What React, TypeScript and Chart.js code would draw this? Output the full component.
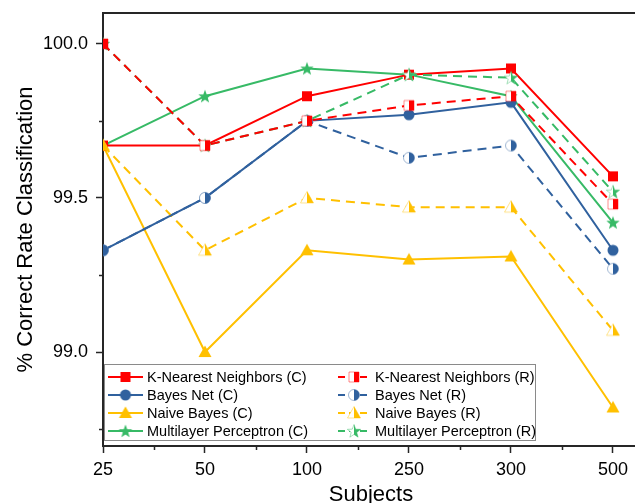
import React, { useEffect, useRef } from 'react';
import { Chart, registerables } from 'chart.js';
Chart.register(...registerables);

const categories = ['25', '50', '100', '250', '300', '500'];
const knnC = [99.67, 99.67, 99.83, 99.9, 99.92, 99.57];
const knnR = [100.0, 99.67, 99.75, 99.8, 99.83, 99.48];
const bnC = [99.33, 99.5, 99.75, 99.77, 99.81, 99.33];
const bnR = [99.33, 99.5, 99.75, 99.63, 99.67, 99.27];
const nbC = [99.67, 99.0, 99.33, 99.3, 99.31, 98.82];
const nbR = [99.67, 99.33, 99.5, 99.47, 99.47, 99.07];
const mlpC = [99.67, 99.83, 99.92, 99.9, 99.83, 99.42];
const mlpR = [100.0, 99.67, 99.75, 99.9, 99.89, 99.52];
const yMajorTicks = [99.0, 99.5, 100.0];
const yMinorTicks = [98.75, 99.25, 99.75];
const xTitle = 'Subjects';
const yTitle = '% Correct Rate Classification';

const RED = '#FF0000';
const BLUE = '#30619E';
const YELLOW = '#FFC000';
const GREEN = '#37BA66';
const AXIS = '#262626';
const FONT = '"Liberation Sans", Arial, sans-serif';
const DASH = [9, 6];

const series = [
  { label: 'K-Nearest Neighbors (C)', data: knnC, color: RED, shape: 'square', half: false },
  { label: 'K-Nearest Neighbors (R)', data: knnR, color: RED, shape: 'square', half: true },
  { label: 'Bayes Net (C)', data: bnC, color: BLUE, shape: 'circle', half: false },
  { label: 'Bayes Net (R)', data: bnR, color: BLUE, shape: 'circle', half: true },
  { label: 'Naive Bayes (C)', data: nbC, color: YELLOW, shape: 'triangle', half: false },
  { label: 'Naive Bayes (R)', data: nbR, color: YELLOW, shape: 'triangle', half: true },
  { label: 'Multilayer Perceptron (C)', data: mlpC, color: GREEN, shape: 'star', half: false },
  { label: 'Multilayer Perceptron (R)', data: mlpR, color: GREEN, shape: 'star', half: true },
];

function makeMarker(shape: string, color: string, half: boolean): HTMLCanvasElement {
  const s = 16;
  const c = document.createElement('canvas');
  c.width = s;
  c.height = s;
  const ctx = c.getContext('2d') as CanvasRenderingContext2D;
  const cx = s / 2;
  const cy = s / 2;
  const path = () => {
    ctx.beginPath();
    if (shape === 'square') {
      ctx.rect(cx - 5, cy - 5, 10, 10);
    } else if (shape === 'circle') {
      ctx.arc(cx, cy, 5.5, 0, Math.PI * 2);
    } else if (shape === 'triangle') {
      ctx.moveTo(cx, cy - 6.5);
      ctx.lineTo(cx + 6.5, cy + 5);
      ctx.lineTo(cx - 6.5, cy + 5);
      ctx.closePath();
    } else {
      for (let i = 0; i < 10; i++) {
        const r = i % 2 === 0 ? 7 : 2.9;
        const a = -Math.PI / 2 + (i * Math.PI) / 5;
        const px = cx + r * Math.cos(a);
        const py = cy + 0.5 + r * Math.sin(a);
        if (i === 0) ctx.moveTo(px, py);
        else ctx.lineTo(px, py);
      }
      ctx.closePath();
    }
  };
  if (!half) {
    path();
    ctx.fillStyle = color;
    ctx.fill();
  } else {
    path();
    ctx.fillStyle = '#ffffff';
    ctx.fill();
    ctx.globalAlpha = 0.45;
    ctx.strokeStyle = color;
    ctx.lineWidth = 1;
    path();
    ctx.stroke();
    ctx.globalAlpha = 1;
    ctx.save();
    ctx.beginPath();
    ctx.rect(cx, 0, s, s);
    ctx.clip();
    path();
    ctx.fillStyle = color;
    ctx.fill();
    ctx.restore();
  }
  return c;
}

export default function App() {
  const ref = useRef<HTMLCanvasElement | null>(null);
  useEffect(() => {
    if (!ref.current) return;
    const markers = series.map((s) => makeMarker(s.shape, s.color, s.half));
    const decor = {
      id: 'decor',
      afterDraw(chart: any) {
        const { ctx, chartArea } = chart;
        const x = chart.scales.x;
        const y = chart.scales.y;
        ctx.save();
        // top border
        ctx.strokeStyle = AXIS;
        ctx.lineWidth = 2;
        ctx.setLineDash([]);
        ctx.beginPath();
        ctx.moveTo(chartArea.left - 1, chartArea.top);
        ctx.lineTo(chartArea.right, chartArea.top);
        ctx.stroke();
        // minor ticks
        ctx.lineWidth = 1.5;
        ctx.beginPath();
        for (let i = 0; i < categories.length - 1; i++) {
          const px = Math.round(x.getPixelForValue(i + 0.5)) + 0.5;
          ctx.moveTo(px, chartArea.bottom);
          ctx.lineTo(px, chartArea.bottom + 4);
        }
        yMinorTicks.forEach((v) => {
          const py = Math.round(y.getPixelForValue(v)) + 0.5;
          ctx.moveTo(chartArea.left, py);
          ctx.lineTo(chartArea.left - 4, py);
        });
        ctx.stroke();
        // legend
        const bx = 104.5, by = 364.5, bw = 431, bh = 76;
        ctx.fillStyle = '#ffffff';
        ctx.fillRect(bx, by, bw, bh);
        ctx.strokeStyle = '#8a8a8a';
        ctx.lineWidth = 1;
        ctx.strokeRect(bx, by, bw, bh);
        ctx.font = '14.5px ' + FONT;
        ctx.textBaseline = 'middle';
        ctx.textAlign = 'left';
        series.forEach((s, i) => {
          const col = i % 2;
          const row = Math.floor(i / 2);
          const ly = 377 + row * 18;
          const x1 = col === 0 ? 108 : 338;
          const x2 = col === 0 ? 143 : 370;
          const tx = col === 0 ? 147 : 375;
          ctx.strokeStyle = s.color;
          ctx.lineWidth = 2;
          ctx.setLineDash(s.half ? [7, 4] : []);
          ctx.beginPath();
          ctx.moveTo(x1, ly);
          ctx.lineTo(x2, ly);
          ctx.stroke();
          ctx.setLineDash([]);
          const m = markers[i];
          ctx.drawImage(m, (x1 + x2) / 2 - m.width / 2, ly - m.height / 2);
          ctx.fillStyle = '#000000';
          ctx.fillText(s.label, tx, ly + 1);
        });
        // axis titles
        ctx.fillStyle = '#000000';
        ctx.font = '22px ' + FONT;
        ctx.textAlign = 'center';
        ctx.textBaseline = 'alphabetic';
        ctx.fillText(xTitle, 371, 501);
        ctx.translate(32, (chartArea.top + chartArea.bottom) / 2);
        ctx.rotate(-Math.PI / 2);
        ctx.fillText(yTitle, 0, 0);
        ctx.restore();
      },
    };
    const chart = new Chart(ref.current, {
      type: 'line',
      data: {
        datasets: series.map((s, i) => ({
          label: s.label,
          data: s.data.map((v, k) => ({ x: k, y: v })),
          borderColor: s.color,
          backgroundColor: s.color,
          borderWidth: 2,
          borderDash: s.half ? DASH : [],
          pointStyle: markers[i],
          pointRadius: 6,
          tension: 0,
          fill: false,
          order: s.half ? i : 10 + i,
          clip: { left: 0, top: 20, right: 20, bottom: 20 },
        })),
      },
      options: {
        responsive: false,
        animation: false,
        layout: { autoPadding: false, padding: { top: 13, left: 0, right: 0, bottom: 0 } },
        plugins: {
          legend: { display: false },
          tooltip: { enabled: false },
          title: { display: false },
        },
        scales: {
          x: {
            type: 'linear',
            min: 0,
            max: 5.216,
            afterBuildTicks: (ax: any) => {
              ax.ticks = categories.map((_, i) => ({ value: i }));
            },
            afterFit: (s: any) => {
              s.height = 57;
              s.paddingLeft = 0;
              s.paddingRight = 0;
            },
            ticks: {
              callback: (v: any) => categories[v as number],
              font: { family: FONT, size: 18 },
              color: '#000000',
              padding: 6,
              maxRotation: 0,
              autoSkip: false,
            },
            grid: { drawOnChartArea: false, tickLength: 7, tickWidth: 1.5, tickColor: AXIS },
            border: { color: AXIS, width: 2 },
          },
          y: {
            min: 98.695,
            max: 100.1,
            afterBuildTicks: (ax: any) => {
              ax.ticks = yMajorTicks.map((v) => ({ value: v }));
            },
            afterFit: (s: any) => {
              s.width = 103;
              s.paddingTop = 0;
              s.paddingBottom = 0;
            },
            ticks: {
              callback: (v: any) => Number(v).toFixed(1),
              font: { family: FONT, size: 18 },
              color: '#000000',
              padding: 8,
            },
            grid: { drawOnChartArea: false, tickLength: 7, tickWidth: 1.5, tickColor: AXIS },
            border: { color: AXIS, width: 2 },
          },
        },
      },
      plugins: [decor],
    } as any);
    return () => chart.destroy();
  }, []);
  return (
    <div style={{ position: 'fixed', left: 0, top: 0, width: 635, height: 503, background: '#fff' }}>
      <canvas ref={ref} width={635} height={503} style={{ display: 'block' }} />
    </div>
  );
}
